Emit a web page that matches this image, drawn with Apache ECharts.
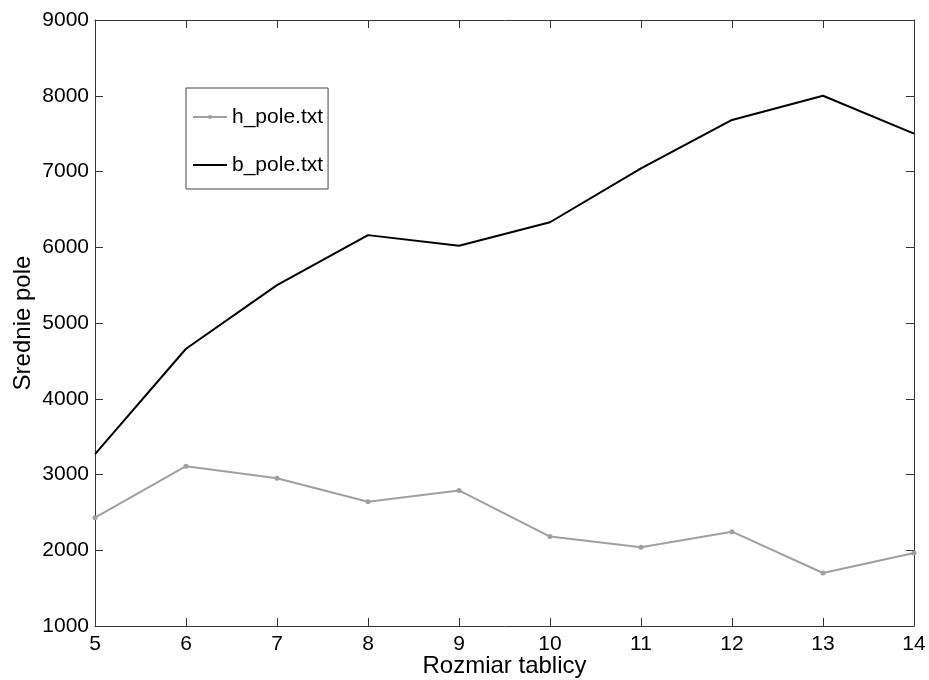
<!DOCTYPE html>
<html>
<head>
<meta charset="utf-8">
<script src="https://cdn.jsdelivr.net/npm/echarts@6/dist/echarts.min.js"></script>
<style>
html, body { margin: 0; padding: 0; background: #fff; }
#chart { width: 929px; height: 680px; }
</style>
</head>
<body>
<div id="chart"></div>
<script>
// rozmiar tablicy (x)
var rozmiar = [5, 6, 7, 8, 9, 10, 11, 12, 13, 14];
// srednie pole
var hPole = [2430, 3110, 2950, 2640, 2790, 2180, 2040, 2245, 1700, 1965];
var bPole = [3270, 4660, 5500, 6160, 6020, 6330, 7040, 7680, 8000, 7500];

function pary(xs, ys) {
	var out = [];
	for (var i = 0; i < xs.length; i++) out.push([xs[i], ys[i]]);
	return out;
}

var myChart = echarts.init(document.getElementById('chart'));

var font = 'Liberation Sans, Arial, sans-serif';
var axisCol = '#333';

var option = {
	backgroundColor: '#fff',
	animation: false,
	textStyle: { fontFamily: font },
	grid: { left: 95, right: 15, top: 20, bottom: 54, outerBoundsMode: 'none' },
	legend: {
		orient: 'vertical',
		left: 186,
		top: 88,
		padding: [17, 5, 12, 6],
		itemGap: 24,
		itemWidth: 34,
		itemHeight: 5,
		borderColor: '#444',
		borderWidth: 1,
		borderRadius: 0,
		backgroundColor: '#fff',
		textStyle: { fontSize: 21, color: '#000', fontFamily: font, lineHeight: 24 },
		data: [
			{ name: 'h_pole.txt' },
			{ name: 'b_pole.txt', icon: 'path://M0,0L34,0L34,2L0,2Z' }
		]
	},
	xAxis: [
		{
			type: 'value', min: 5, max: 14, interval: 1,
			name: 'Rozmiar tablicy', nameLocation: 'middle', nameGap: 28,
			nameMoveOverlap: false,
			nameTextStyle: { fontSize: 24, color: '#000', fontFamily: font },
			axisLine: { show: true, lineStyle: { color: axisCol, width: 1 } },
			axisTick: { show: true, inside: true, length: 8, lineStyle: { color: axisCol } },
			axisLabel: { fontSize: 21, color: '#000', margin: 8, fontFamily: font },
			splitLine: { show: false }
		},
		{
			type: 'value', min: 5, max: 14, interval: 1, position: 'top',
			axisLine: { show: true, lineStyle: { color: axisCol, width: 1 } },
			axisTick: { show: true, inside: true, length: 8, lineStyle: { color: axisCol } },
			axisLabel: { show: false },
			splitLine: { show: false }
		}
	],
	yAxis: [
		{
			type: 'value', min: 1000, max: 9000, interval: 1000,
			name: 'Srednie pole', nameLocation: 'middle', nameGap: 60,
			nameMoveOverlap: false,
			nameTextStyle: { fontSize: 24, color: '#000', fontFamily: font },
			axisLine: { show: true, lineStyle: { color: axisCol, width: 1 } },
			axisTick: { show: true, inside: true, length: 8, lineStyle: { color: axisCol } },
			axisLabel: {
				fontSize: 21, color: '#000', margin: 6, fontFamily: font,
				formatter: function (v) { return String(v); }
			},
			splitLine: { show: false }
		},
		{
			type: 'value', min: 1000, max: 9000, interval: 1000, position: 'right',
			axisLine: { show: true, lineStyle: { color: axisCol, width: 1 } },
			axisTick: { show: true, inside: true, length: 8, lineStyle: { color: axisCol } },
			axisLabel: { show: false },
			splitLine: { show: false }
		}
	],
	series: [
		{
			name: 'h_pole.txt',
			type: 'line',
			data: pary(rozmiar, hPole),
			symbol: 'circle',
			symbolSize: 5,
			showSymbol: true,
			color: '#a0a0a0',
			lineStyle: { color: '#a0a0a0', width: 2 },
			itemStyle: { color: '#a0a0a0' },
			z: 3
		},
		{
			name: 'b_pole.txt',
			type: 'line',
			data: pary(rozmiar, bPole),
			symbol: 'none',
			showSymbol: false,
			color: '#000',
			lineStyle: { color: '#000', width: 2 },
			z: 4
		}
	]
};

myChart.setOption(option);
</script>
</body>
</html>
